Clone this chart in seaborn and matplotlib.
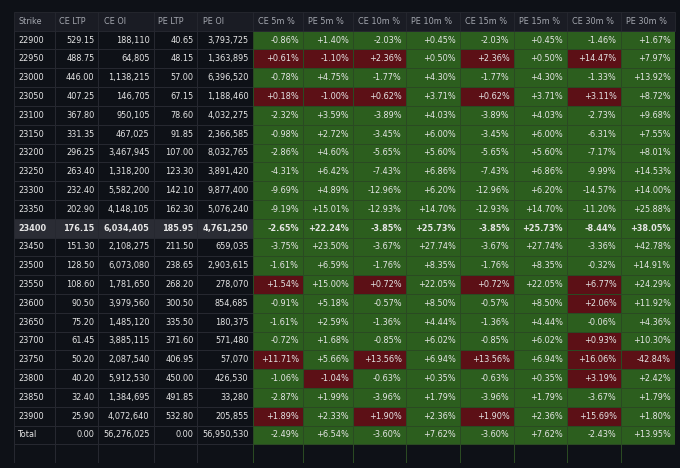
import numpy as np
import pandas as pd
import matplotlib
matplotlib.use("Agg")
import matplotlib.pyplot as plt
from matplotlib.colors import ListedColormap
from matplotlib.patches import Rectangle
import seaborn as sns

strikes = ["22900","22950","23000","23050","23100","23150","23200","23250","23300","23350","23400",
           "23450","23500","23550","23600","23650","23700","23750","23800","23850","23900","Total"]
ce_ltp = ["529.15","488.75","446.00","407.25","367.80","331.35","296.25","263.40","232.40","202.90","176.15",
          "151.30","128.50","108.60","90.50","75.20","61.45","50.20","40.20","32.40","25.90","0.00"]
ce_oi = ["188,110","64,805","1,138,215","146,705","950,105","467,025","3,467,945","1,318,200","5,582,200","4,148,105","6,034,405",
         "2,108,275","6,073,080","1,781,650","3,979,560","1,485,120","3,885,115","2,087,540","5,912,530","1,384,695","4,072,640","56,276,025"]
pe_ltp = ["40.65","48.15","57.00","67.15","78.60","91.85","107.00","123.30","142.10","162.30","185.95",
          "211.50","238.65","268.20","300.50","335.50","371.60","406.95","450.00","491.85","532.80","0.00"]
pe_oi = ["3,793,725","1,363,895","6,396,520","1,188,460","4,032,275","2,366,585","8,032,765","3,891,420","9,877,400","5,076,240","4,761,250",
         "659,035","2,903,615","278,070","854,685","180,375","571,480","57,070","426,530","33,280","205,855","56,950,530"]
ce_5m = [-0.86,0.61,-0.78,0.18,-2.32,-0.98,-2.86,-4.31,-9.69,-9.19,-2.65,-3.75,-1.61,1.54,-0.91,-1.61,-0.72,11.71,-1.06,-2.87,1.89,-2.49]
pe_5m = [1.40,-1.10,4.75,-1.00,3.59,2.72,4.60,6.42,4.89,15.01,22.24,23.50,6.59,15.00,5.18,2.59,1.68,5.66,-1.04,1.99,2.33,6.54]
ce_10m = [-2.03,2.36,-1.77,0.62,-3.89,-3.45,-5.65,-7.43,-12.96,-12.93,-3.85,-3.67,-1.76,0.72,-0.57,-1.36,-0.85,13.56,-0.63,-3.96,1.90,-3.60]
pe_10m = [0.45,0.50,4.30,3.71,4.03,6.00,5.60,6.86,6.20,14.70,25.73,27.74,8.35,22.05,8.50,4.44,6.02,6.94,0.35,1.79,2.36,7.62]
ce_15m = [-2.03,2.36,-1.77,0.62,-3.89,-3.45,-5.65,-7.43,-12.96,-12.93,-3.85,-3.67,-1.76,0.72,-0.57,-1.36,-0.85,13.56,-0.63,-3.96,1.90,-3.60]
pe_15m = [0.45,0.50,4.30,3.71,4.03,6.00,5.60,6.86,6.20,14.70,25.73,27.74,8.35,22.05,8.50,4.44,6.02,6.94,0.35,1.79,2.36,7.62]
ce_30m = [-1.46,14.47,-1.33,3.11,-2.73,-6.31,-7.17,-9.99,-14.57,-11.20,-8.44,-3.36,-0.32,6.77,2.06,-0.06,0.93,16.06,3.19,-3.67,15.69,-2.43]
pe_30m = [1.67,7.97,13.92,8.72,9.68,7.55,8.01,14.53,14.00,25.88,38.05,42.78,14.91,24.29,11.92,4.36,10.30,-42.84,2.42,1.79,1.80,13.95]

left_cols = ["Strike","CE LTP","CE OI","PE LTP","PE OI"]
right_cols = ["CE 5m %","PE 5m %","CE 10m %","PE 10m %","CE 15m %","PE 15m %","CE 30m %","PE 30m %"]
atm = strikes.index("23400")

BG = "#0e1117"
fig = plt.figure(figsize=(6.8, 4.68), dpi=100, facecolor=BG)
W, H = 680, 468
top, rh = 30.7, 18.8
nrows = len(strikes) + 1
bot = top + nrows * rh
edges = [14, 55, 98, 154, 197, 253, 303, 353, 406, 460, 514, 567, 621, 675]

def add_ax(x0, x1):
    return fig.add_axes([x0 / W, 1 - bot / H, (x1 - x0) / W, (bot - top) / H])

left_data = [strikes, ce_ltp, ce_oi, pe_ltp, pe_oi]
right_data = [ce_5m, pe_5m, ce_10m, pe_10m, ce_15m, pe_15m, ce_30m, pe_30m]
FS = 5.9

for j in range(13):
    ax = add_ax(edges[j], edges[j + 1])
    vals = np.zeros((nrows, 1))
    ann = [[""] for _ in range(nrows)]
    if j < 5:
        vals[atm, 0] = 1
        for i, s in enumerate(left_data[j]):
            ann[i][0] = s
        cmap = ListedColormap(["#0e1117", "#2a2c34", "#000000"])
        lc = "#262830"
        name = left_cols[j]
    else:
        s = right_data[j - 5]
        for i, v in enumerate(s):
            bad = v > 0 if (j - 5) % 2 == 0 else v < 0
            vals[i, 0] = 2 if bad else 1
            ann[i][0] = f"{v:+.2f}%"
        cmap = ListedColormap(["#0e1117", "#2c5e1e", "#5c1016"])
        lc = "#2a4a22"
        name = right_cols[j - 5]
    sns.heatmap(vals, ax=ax, cmap=cmap, vmin=0, vmax=2, cbar=False,
                annot=np.array(ann), fmt="", linewidths=0.6, linecolor=lc,
                annot_kws=dict(color="#e6e6e6", fontsize=FS))
    ax.set_xticks([]); ax.set_yticks([])
    for t in ax.texts:
        x, y = t.get_position()
        if j == 0:
            t.set_ha("left"); t.set_x(x - 0.4)
        else:
            t.set_ha("right"); t.set_x(x + 0.42)
        if int(y) == atm:
            t.set_fontweight("bold")
    ax.add_patch(Rectangle((0, -1), 1, 1, facecolor="#1a1c24", edgecolor="#262830", lw=0.6, clip_on=False))
    ax.text(0.1, -0.5, name, ha="left", va="center", color="#a5a8b0", fontsize=FS, clip_on=False)

fig.savefig("out.png", dpi=100, facecolor=BG)
